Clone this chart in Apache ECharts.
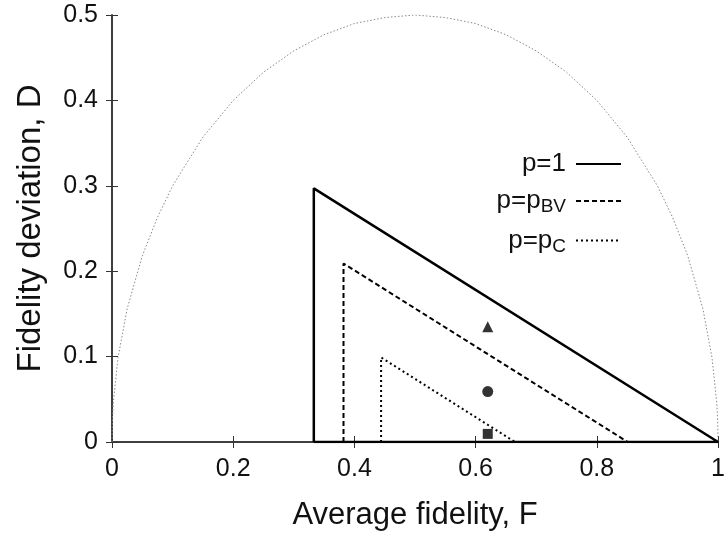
<!DOCTYPE html>
<html><head><meta charset="utf-8">
<script src="https://cdn.jsdelivr.net/npm/echarts@6/dist/echarts.min.js"></script>
<style>html,body{margin:0;padding:0;background:#fff}#c{width:728px;height:536px}</style>
</head><body><div id="c"></div>
<script>
// Boundary (dotted semicircle)
const boundaryF = [0, 0.0005, 0.002, 0.01, 0.025, 0.05, 0.075, 0.1, 0.15, 0.2, 0.25, 0.3, 0.35, 0.4, 0.45, 0.5, 0.55, 0.6, 0.65, 0.7, 0.75, 0.8, 0.85, 0.9, 0.925, 0.95, 0.975, 0.99, 0.998, 0.9995, 1];
const boundaryD = [0, 0.022, 0.045, 0.099, 0.156, 0.218, 0.263, 0.300, 0.357, 0.400, 0.433, 0.458, 0.477, 0.490, 0.497, 0.500, 0.497, 0.490, 0.477, 0.458, 0.433, 0.400, 0.357, 0.300, 0.263, 0.218, 0.156, 0.099, 0.045, 0.022, 0];
// Triangles
const p1F = [0.333, 0.333, 1.0, 0.333];
const p1D = [0, 0.297, 0, 0];
const pBVF = [0.382, 0.382, 0.851, 0.382];
const pBVD = [0, 0.209, 0, 0];
const pCF = [0.444, 0.444, 0.665, 0.444];
const pCD = [0, 0.099, 0, 0];
// Points
const triPt = [0.62, 0.135];
const circPt = [0.62, 0.059];
const sqPt = [0.62, 0.0095];
const xTicks = [0, 0.2, 0.4, 0.6, 0.8, 1];
const yTicks = [0, 0.1, 0.2, 0.3, 0.4, 0.5];

const zip = (a, b) => a.map((v, i) => [v, b[i]]);
const font = 'Liberation Sans, Arial, Helvetica, sans-serif';
const fmtX = v => (Math.abs(v) < 1e-9 ? '0' : (Math.abs(v - 1) < 1e-9 ? '1' : String(+v.toFixed(1))));
const fmtY = v => (Math.abs(v) < 1e-9 ? '0' : String(+v.toFixed(1)));
const frame = {show: true, lineStyle: {color: '#333', width: 1.5}};
const tickIn = {show: true, inside: true, length: 6, lineStyle: {color: '#333', width: 1}};

const chart = echarts.init(document.getElementById('c'), null, {renderer: 'canvas'});
chart.setOption({
  backgroundColor: '#fff',
  animation: false,
  grid: {left: 112, right: 6, top: 15, bottom: 94, containLabel: false},
  xAxis: [
    {type: 'value', min: 0, max: 1, interval: 0.2, position: 'bottom',
     name: 'Average fidelity, F', nameLocation: 'middle', nameGap: 58,
     nameTextStyle: {fontFamily: font, fontSize: 31, color: '#111'},
     axisLine: frame, axisTick: tickIn, splitLine: {show: false},
     axisLabel: {formatter: fmtX, fontFamily: font, fontSize: 25, color: '#111', margin: 15}},
    {type: 'value', min: 0, max: 1, interval: 0.2, position: 'top',
     axisLine: frame, axisTick: tickIn, splitLine: {show: false}, axisLabel: {show: false}}
  ],
  yAxis: [
    {type: 'value', min: 0, max: 0.5, interval: 0.1, position: 'left',
     name: 'Fidelity deviation, D', nameLocation: 'middle', nameGap: 65, nameRotate: 90,
     nameTextStyle: {fontFamily: font, fontSize: 33, color: '#111'},
     axisLine: frame, axisTick: tickIn, splitLine: {show: false},
     axisLabel: {formatter: fmtY, fontFamily: font, fontSize: 25, color: '#111', margin: 14}},
    {type: 'value', min: 0, max: 0.5, interval: 0.1, position: 'right',
     axisLine: frame, axisTick: tickIn, splitLine: {show: false}, axisLabel: {show: false}}
  ],
  legend: {
    orient: 'vertical', right: 106, top: 151, align: 'right', padding: 0,
    itemWidth: 45, itemHeight: 14, itemGap: 11,
    itemStyle: {opacity: 0},
    data: ['p1', 'pBV', 'pC'],
    textStyle: {fontFamily: font, fontSize: 26, color: '#111', padding: [0, 5, 0, 0],
      rich: {n: {fontFamily: font, fontSize: 26, color: '#111'},
             s: {fontFamily: font, fontSize: 19, color: '#111', padding: [12, 0, 0, 0]}}},
    formatter: name => name === 'p1' ? '{n|p=1}' : (name === 'pBV' ? '{n|p=p}{s|BV}' : '{n|p=p}{s|C}')
  },
  series: [
    {name: 'boundary', type: 'line', data: zip(boundaryF, boundaryD), showSymbol: false, symbol: 'none',
     lineStyle: {color: '#888', width: 1, type: [1.5, 2]}, z: 1},
    {name: 'p1', type: 'line', data: zip(p1F, p1D), symbol: 'none',
     lineStyle: {color: '#000', width: 2.5, type: 'solid'}, itemStyle: {color: '#000'}, z: 3},
    {name: 'pBV', type: 'line', data: zip(pBVF, pBVD), symbol: 'none',
     lineStyle: {color: '#000', width: 2, type: [5, 3]}, itemStyle: {color: '#000'}, z: 3},
    {name: 'pC', type: 'line', data: zip(pCF, pCD), symbol: 'none',
     lineStyle: {color: '#000', width: 2, type: [2, 3]}, itemStyle: {color: '#000'}, z: 3},
    {name: 'tri', type: 'scatter', data: [triPt], symbol: 'triangle', symbolSize: 11, itemStyle: {color: '#000'}, z: 4},
    {name: 'circ', type: 'scatter', data: [circPt], symbol: 'circle', symbolSize: 11, itemStyle: {color: '#000'}, z: 4},
    {name: 'sq', type: 'scatter', data: [sqPt], symbol: 'rect', symbolSize: 10, itemStyle: {color: '#000'}, z: 4}
  ]
});
</script></body></html>
